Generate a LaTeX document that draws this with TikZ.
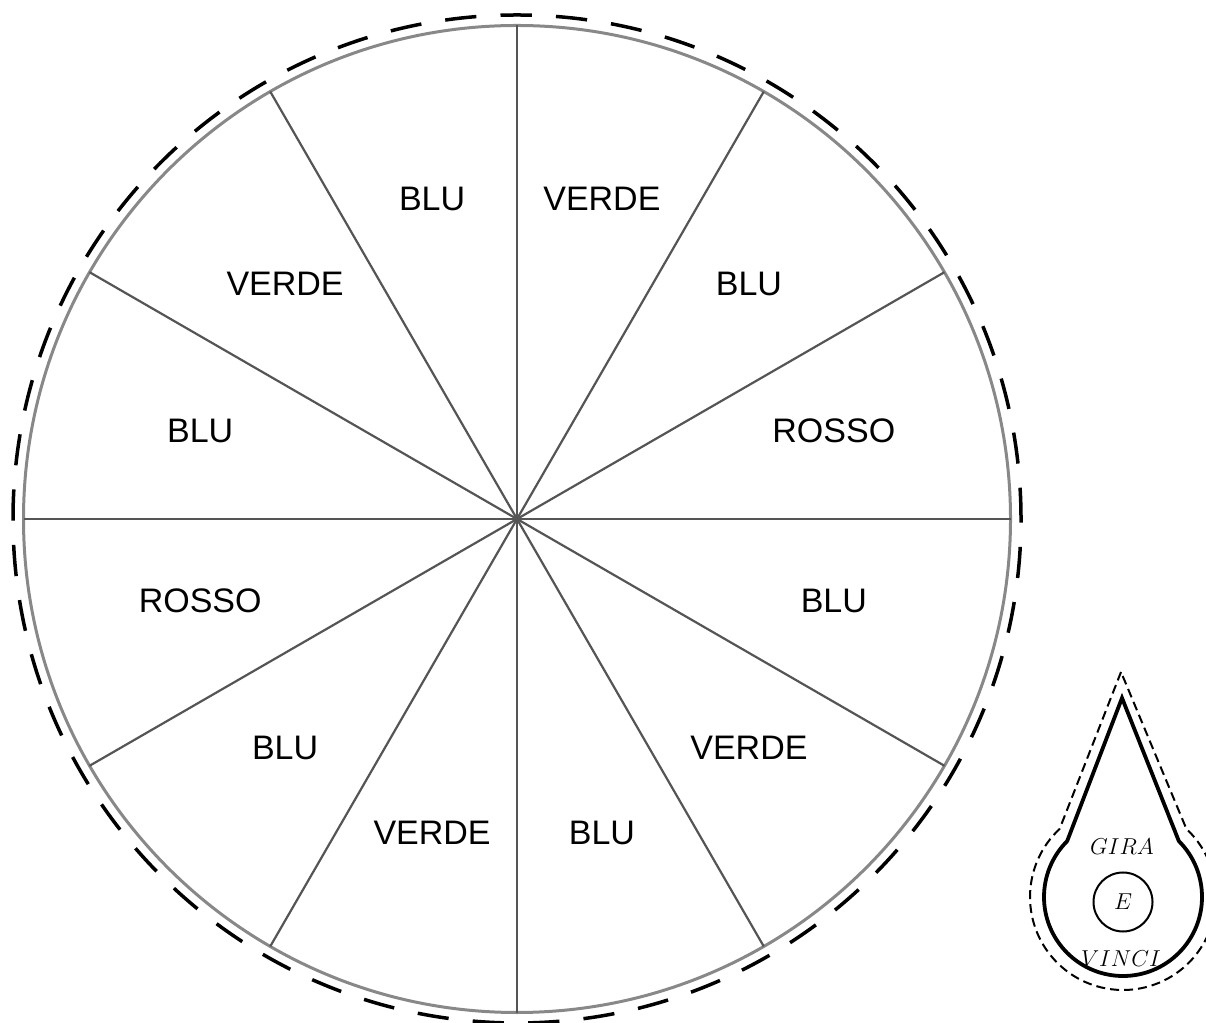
\RequirePackage{fix-cm}
\documentclass[tikz,border=0pt]{standalone}
\usepackage{fontspec}
\newfontfamily\labfont{Liberation Sans}
\definecolor{rimgray}{HTML}{888888}
\definecolor{spokegray}{HTML}{555555}
\tikzset{
  rim/.style={draw=rimgray, line width=3pt},
  spoke/.style={draw=spokegray, line width=2.2pt},
  outercut/.style={draw=black, line width=3.5pt, dash pattern=on 31.3pt off 24.2pt},
  sector/.style={font=\labfont\fontsize{34}{40}\selectfont, inner sep=0pt},
  pointer/.style={draw=black, line width=3.8pt, line join=miter},
  pointercut/.style={draw=black, line width=2pt, dash pattern=on 9pt off 5pt},
  ptext/.style={font=\fontsize{23}{28}\selectfont, inner sep=0pt}
}
\begin{document}
\begin{tikzpicture}[x=1pt,y=1pt]
\useasboundingbox (0,0) rectangle (1206,1022);
\coordinate (c) at (517,503);
\coordinate (lc) at (517,506);
% outer dashed cut line and rim
\draw[outercut] (c) circle[radius=504pt];
\draw[rim] (c) circle[radius=493.5pt];
% spokes
\foreach \a in {0,30,...,330}{
  \coordinate (s\a) at ([shift={(\a:493.5pt)}]c);
  \draw[spoke] (c) -- (s\a);
}
% sector labels
\foreach \a/\t/\n in {15/ROSSO/l1,45/BLU/l2,75/VERDE/l3,105/BLU/l4,135/VERDE/l5,165/BLU/l6,195/ROSSO/l7,225/BLU/l8,255/VERDE/l9,285/BLU/l10,315/VERDE/l11,345/BLU/l12}{
  \node[sector] (\n) at ([shift={(\a:328pt)}]lc) {\t};
}
% pointer
\coordinate (pd) at (1123,125);
\coordinate (ptip) at (1122,324);
\coordinate (ptipcut) at (1121,350);
\draw[pointercut] (ptipcut) -- ([shift={(133:93pt)}]pd) arc[start angle=133, end angle=407, radius=93pt] -- cycle;
\draw[pointer] (ptip) -- ([shift={(135:79pt)}]pd) arc[start angle=135, end angle=405, radius=79pt] -- cycle;
\node[ptext] (gira) at (1122,175) {$GIRA$};
\node[draw=black, line width=2pt, circle, minimum size=59pt, inner sep=0pt, font=\fontsize{23}{28}\selectfont] (e) at (1123,120) {$E$};
\node[ptext] (vinci) at (1121,63) {$VINCI$};
\end{tikzpicture}
\end{document}
